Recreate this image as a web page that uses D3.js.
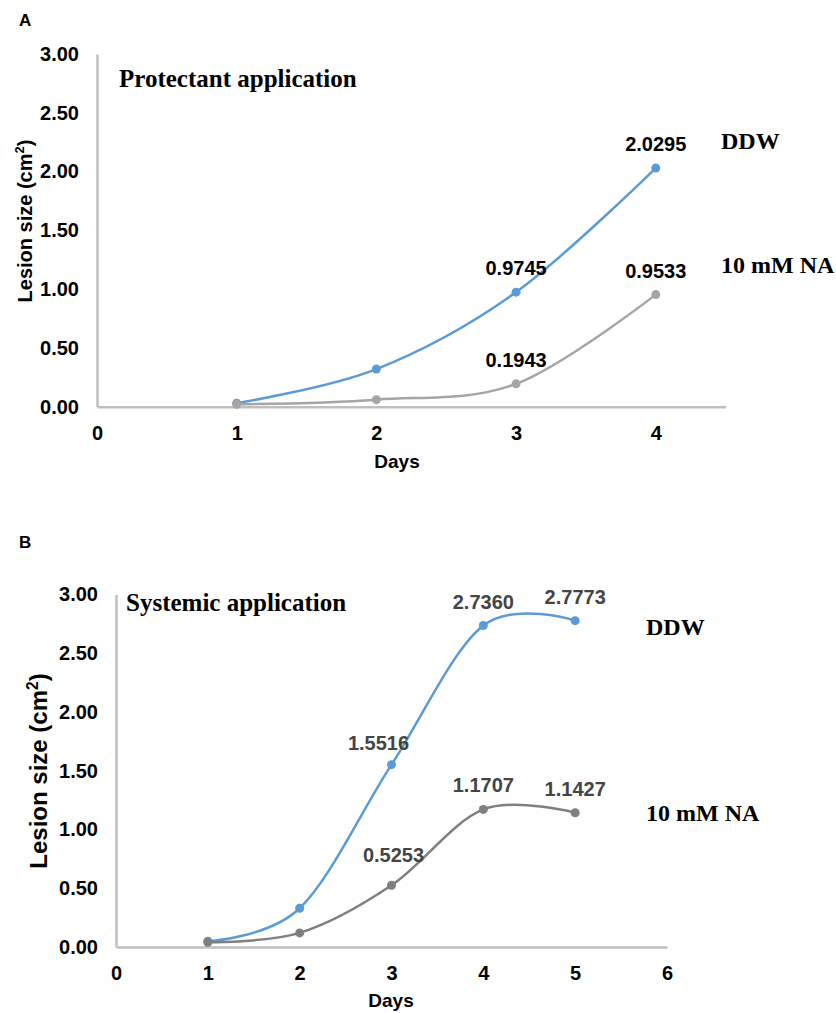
<!DOCTYPE html>
<html><head><meta charset="utf-8">
<script src="https://cdn.jsdelivr.net/npm/d3@7"></script>
<style>
body{margin:0;background:#fff;}
svg{display:block;}
</style>
</head><body>
<svg id="chart" width="836" height="1013"></svg>
<script>
// ---- data ----
const daysA = [1, 2, 3, 4];
const ddwA = [0.03, 0.32, 0.9745, 2.0295];
const naA = [0.02, 0.06, 0.1943, 0.9533];
const labelIdxA = [2, 3];
const daysB = [1, 2, 3, 4, 5];
const ddwB = [0.05, 0.33, 1.5516, 2.7360, 2.7773];
const naB = [0.04, 0.12, 0.5253, 1.1707, 1.1427];
const labelIdxB = [2, 3, 4];
const yTicks = [0, 0.5, 1, 1.5, 2, 2.5, 3];
const xTicksA = [0, 1, 2, 3, 4];
const xTicksB = [0, 1, 2, 3, 4, 5, 6];
const seriesNames = ["DDW", "10 mM NA"];

const SANS = "'Liberation Sans', Arial, sans-serif";
const SERIF = "'Liberation Serif', 'Times New Roman', serif";
const BLUE = "#5b9bd5";

const svg = d3.select("#chart");

function panel(cfg) {
  const g = svg.append("g");
  const x = d3.scaleLinear().domain(cfg.xDomain).range(cfg.xRange);
  const y = d3.scaleLinear().domain([0, 3]).range(cfg.yRange);

  // panel letter
  g.append("text").attr("x", 19).attr("y", cfg.letterY)
    .attr("font-family", SANS).attr("font-weight", "bold").attr("font-size", 17)
    .text(cfg.letter);

  // y axis
  const ya = g.append("g").attr("transform", `translate(${x(0)},0)`)
    .call(d3.axisLeft(y).tickValues(yTicks).tickFormat(d3.format(".2f"))
      .tickSize(0).tickSizeOuter(0).tickPadding(18));
  ya.select(".domain").attr("stroke", "#bfbfbf").attr("stroke-width", 2.5);
  ya.selectAll("text").attr("font-family", SANS).attr("font-weight", "bold")
    .attr("font-size", 20).attr("fill", "#000");

  // x axis
  const xa = g.append("g").attr("transform", `translate(0,${y(0)})`)
    .call(d3.axisBottom(x).tickValues(cfg.xTicks).tickFormat(d3.format("d"))
      .tickSize(0).tickSizeOuter(0).tickPadding(19));
  xa.select(".domain").attr("stroke", "#bfbfbf").attr("stroke-width", 2.5);
  xa.selectAll("text").attr("font-family", SANS).attr("font-weight", "bold")
    .attr("font-size", 20).attr("fill", "#000");

  // axis titles
  g.append("text").attr("x", cfg.daysX).attr("y", cfg.daysY)
    .attr("text-anchor", "middle").attr("font-family", SANS)
    .attr("font-weight", "bold").attr("font-size", 19).text("Days");
  const yl = g.append("text")
    .attr("transform", `translate(${cfg.ylabX},${cfg.ylabY}) rotate(-90)`)
    .attr("text-anchor", "middle").attr("font-family", SANS)
    .attr("font-weight", "bold").attr("font-size", cfg.ylabSize);
  yl.append("tspan").text("Lesion size (cm");
  yl.append("tspan").attr("font-size", cfg.ylabSize * 0.65).attr("dy", -cfg.ylabSize * 0.38).text("2");
  yl.append("tspan").attr("dy", cfg.ylabSize * 0.38).text(")");

  // title
  g.append("text").attr("x", cfg.titleX).attr("y", cfg.titleY)
    .attr("font-family", SERIF).attr("font-weight", "bold").attr("font-size", 25)
    .text(cfg.title);

  const line = d3.line().x(d => x(d[0])).y(d => y(d[1])).curve(d3.curveCatmullRom.alpha(0));

  cfg.series.forEach((s, si) => {
    const pts = cfg.days.map((d, i) => [d, s.values[i]]);
    g.append("path").datum(pts).attr("d", line).attr("fill", "none")
      .attr("stroke", s.color).attr("stroke-width", 2.5);
    g.selectAll(null).data(pts).enter().append("circle")
      .attr("cx", d => x(d[0])).attr("cy", d => y(d[1])).attr("r", 4.5)
      .attr("fill", s.color);
    cfg.labelIdx.forEach(i => {
      const off = s.labelOff[i] || [0, -17];
      g.append("text").attr("x", x(pts[i][0]) + off[0]).attr("y", y(pts[i][1]) + off[1])
        .attr("text-anchor", "middle").attr("font-family", SANS)
        .attr("font-weight", "bold").attr("font-size", 20)
        .attr("fill", cfg.lblColor).text(d3.format(".4f")(pts[i][1]));
    });
    g.append("text").attr("x", cfg.nameX).attr("y", s.nameY)
      .attr("font-family", SERIF).attr("font-weight", "bold").attr("font-size", 24)
      .text(seriesNames[si]);
  });
}

panel({
  letter: "A", letterY: 26,
  xDomain: [0, 4.5], xRange: [97, 725.6], yRange: [406.7, 54],
  xTicks: xTicksA, days: daysA, labelIdx: labelIdxA,
  daysX: 397, daysY: 468, ylabX: 32, ylabY: 221, ylabSize: 20,
  title: "Protectant application", titleX: 119, titleY: 87,
  nameX: 721, lblColor: "#000",
  series: [
    { values: ddwA, color: BLUE, nameY: 149, labelOff: {} },
    { values: naA, color: "#a5a5a5", nameY: 273, labelOff: {} }
  ]
});

panel({
  letter: "B", letterY: 548,
  xDomain: [0, 6], xRange: [116, 667], yRange: [947, 594.5],
  xTicks: xTicksB, days: daysB, labelIdx: labelIdxB,
  daysX: 391, daysY: 1007, ylabX: 47, ylabY: 771, ylabSize: 24,
  title: "Systemic application", titleX: 126, titleY: 611,
  nameX: 646, lblColor: "#444",
  series: [
    { values: ddwB, color: BLUE, nameY: 635, labelOff: { 2: [-13, -15] } },
    { values: naB, color: "#7f7f7f", nameY: 821, labelOff: { 2: [2, -23] } }
  ]
});
</script>
</body></html>
